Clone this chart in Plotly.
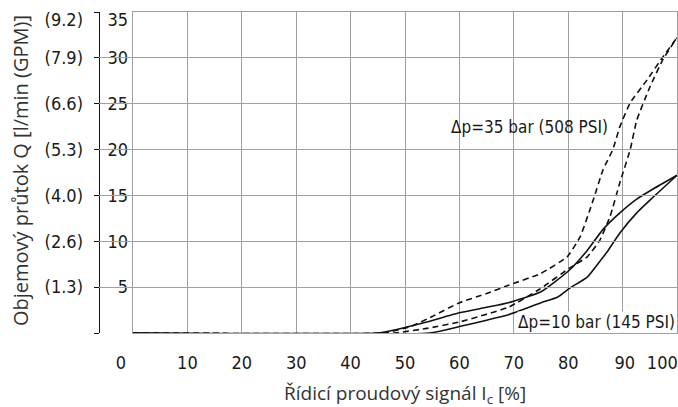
import plotly.graph_objects as go

# ---------------- data ----------------
# Δp = 10 bar (145 PSI) – solid hysteresis loop
x_10_up = [0, 45, 47, 50, 54, 60, 65, 69, 75, 80.3, 83.5, 86.4, 89.5, 92.6, 95.6, 100]
q_10_up = [0, 0, 0.2, 0.6, 1.2, 2.2, 2.8, 3.3, 4.5, 6.9, 9.0, 11.3, 13.1, 14.6, 15.7, 17.2]
x_10_dn = [0, 54.5, 60, 65, 69, 75, 78, 80.3, 83.5, 85.8, 87.1, 89.5, 92.6, 95.6, 100]
q_10_dn = [0, 0, 0.7, 1.4, 2.0, 3.3, 3.9, 4.9, 6.1, 7.8, 8.8, 10.9, 13.1, 14.8, 17.2]

# Δp = 35 bar (508 PSI) – dashed hysteresis loop
x_35_up = [0, 46, 51, 55, 60, 65, 69, 75, 79.8, 82.2, 84.6, 86.4, 88.2, 89.5, 91.4, 94.5, 97.4, 100]
q_35_up = [0, 0, 0.7, 1.8, 3.3, 4.3, 5.2, 6.5, 8.3, 10.5, 14.5, 17.8, 20.0, 22.5, 25.1, 27.6, 30.1, 32.2]
x_35_dn = [0, 48, 54, 60, 69, 74.8, 80.3, 83.5, 85.8, 87.7, 89.5, 91.4, 92.6, 95, 97.4, 100]
q_35_dn = [0, 0, 0.5, 1.2, 2.8, 4.8, 7.1, 8.3, 10.1, 12.7, 16.4, 20.0, 23.2, 26.8, 29.8, 32.2]

x_ticks = [0, 10, 20, 30, 40, 50, 60, 70, 80, 90, 100]
x_tick_labels = ["0", "10", "20", "30", "40", "50", "60", "70", "80", "90", "100"]
y_ticks = [5, 10, 15, 20, 25, 30, 35]
y_tick_labels = ["5", "10", "15", "20", "25", "30", "35"]
gpm_tick_labels = ["(1.3)", "(2.6)", "(4.0)", "(5.3)", "(6.6)", "(7.9)", "(9.2)"]

label_35 = "Δp=35 bar (508 PSI)"
label_10 = "Δp=10 bar (145 PSI)"
x_title = "Řídicí proudový signál I<sub>c</sub> [%]"
y_title = "Objemový průtok Q [l/min (GPM)]"

# ---------------- styling / layout ----------------
W, H = 678, 407
ML, MR, MT, MB = 99, 1, 12, 74
plot_left_px = 133
paper_w = W - ML - MR
paper_h = H - MT - MB
x0 = (plot_left_px - ML) / paper_w

NARROW = "Liberation Sans Narrow, Arial Narrow, DejaVu Sans Condensed, sans-serif"
TICK_FONT = dict(family=NARROW, size=18, color="#1a1a1a")
ANN_FONT = dict(family=NARROW, size=17, color="#1a1a1a")
XTITLE_FONT = dict(family="Open Sans, Noto Sans, sans-serif", size=19, color="#333333")
YTITLE_FONT = dict(family="Open Sans, Noto Sans, sans-serif", size=20, color="#333333")
GRID = "#a0a0a0"

# shifted label positions (edge labels nudged like in the original)
x_label_pos = [v for v in x_ticks]
x_label_pos[0] = -2.2
x_label_pos[-2] = 90.4
x_label_pos[-1] = 97.3
y_label_pos = [v for v in y_ticks]
y_label_pos[-1] = 34.2

fig = go.Figure()
line_solid = dict(color="#111111", width=1.6, shape="spline", smoothing=0.5)
line_dash = dict(color="#111111", width=1.6, shape="spline", smoothing=0.4, dash="6px,4px")

fig.add_trace(go.Scatter(x=x_35_dn, y=q_35_dn, mode="lines", line=line_dash, showlegend=False))
fig.add_trace(go.Scatter(x=x_35_up, y=q_35_up, mode="lines", line=line_dash, showlegend=False))
fig.add_trace(go.Scatter(x=x_10_dn, y=q_10_dn, mode="lines", line=line_solid, showlegend=False))
fig.add_trace(go.Scatter(x=x_10_up, y=q_10_up, mode="lines", line=line_solid, showlegend=False))

# invisible helpers for the extra axes
fig.add_trace(go.Scatter(x=[None], y=[None], xaxis="x2", yaxis="y", showlegend=False))
fig.add_trace(go.Scatter(x=[None], y=[None], xaxis="x", yaxis="y2", showlegend=False))
fig.add_trace(go.Scatter(x=[None], y=[None], xaxis="x", yaxis="y3", showlegend=False))
fig.add_trace(go.Scatter(x=[None], y=[None], xaxis="x", yaxis="y4", showlegend=False))

px_per_unit = (W - MR - plot_left_px) / 100.0
x2_min = -(plot_left_px - ML) / px_per_unit

fig.update_layout(
    template="none",
    width=W, height=H,
    margin=dict(l=ML, r=MR, t=MT, b=MB, autoexpand=False),
    paper_bgcolor="white", plot_bgcolor="rgba(0,0,0,0)",
    showlegend=False,
    xaxis=dict(domain=[x0, 1], range=[0, 100], tickvals=x_ticks, showticklabels=False,
               showgrid=True, gridcolor=GRID, gridwidth=1, zeroline=False, automargin=False,
               showline=True, linecolor=GRID, linewidth=1, mirror=True, ticks=""),
    xaxis2=dict(domain=[0, 1], range=[x2_min, 100], anchor="y", side="bottom",
                tickvals=x_label_pos, ticktext=x_tick_labels, showgrid=False, zeroline=False,
                automargin=False, showline=False, ticks="", tickfont=TICK_FONT, ticklabelstandoff=17),
    yaxis=dict(domain=[0, 1], range=[0, 35], tickvals=[0] + y_ticks, showticklabels=False,
               showgrid=True, gridcolor=GRID, gridwidth=1, zeroline=False, automargin=False,
               showline=True, linecolor=GRID, linewidth=1, mirror=True, ticks=""),
    yaxis2=dict(range=[0, 35], overlaying="y", anchor="free", position=x0, side="left",
                tickvals=y_label_pos, ticktext=y_tick_labels, showgrid=False, zeroline=False,
                automargin=False, showline=False, ticks="", tickfont=TICK_FONT, ticklabelstandoff=5),
    yaxis3=dict(range=[0, 35], overlaying="y", anchor="free", position=0, side="left",
                tickvals=[0] + y_ticks, showticklabels=False, showgrid=False, zeroline=False,
                automargin=False, showline=True, linecolor="#111111", linewidth=1.2,
                ticks="outside", ticklen=5, tickcolor="#111111", tickwidth=1.2),
    yaxis4=dict(range=[0, 35], overlaying="y", anchor="free", position=0, side="left",
                tickvals=y_label_pos, ticktext=gpm_tick_labels, showgrid=False, zeroline=False,
                automargin=False, showline=False, ticks="", tickfont=TICK_FONT, ticklabelstandoff=16),
    annotations=[
        dict(text=label_35, x=72.8, y=22.5, xref="x", yref="y", showarrow=False,
             font=ANN_FONT),
        dict(text=label_10, x=85.2, y=1.25, xref="x", yref="y", showarrow=False,
             font=ANN_FONT, bgcolor="white", borderpad=0),
        dict(text=x_title, x=(x0 + 1) / 2, y=-(394 - 333) / paper_h, xref="paper", yref="paper",
             showarrow=False, font=XTITLE_FONT, xanchor="center", yanchor="middle"),
        dict(text=y_title, x=(20 - ML) / paper_w, y=(333 - 171) / paper_h,
             xref="paper", yref="paper", showarrow=False, font=YTITLE_FONT, textangle=-90,
             xanchor="center", yanchor="middle"),
    ],
)

fig.write_html("out.html", config={"displayModeBar": False},
               post_script="document.body.style.margin='0';document.body.style.overflow='hidden';")
